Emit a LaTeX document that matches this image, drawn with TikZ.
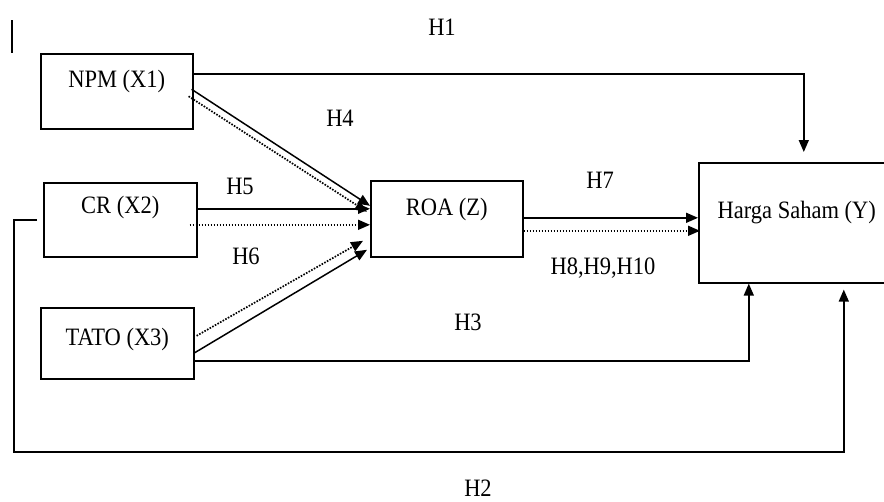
\documentclass[tikz,border=0pt]{standalone}
\usepackage{fontspec}
\setmainfont{Liberation Serif}[FakeStretch=0.9]
\usepackage{tikz}
\usetikzlibrary{calc,arrows.meta,positioning}

\begin{document}
\begin{tikzpicture}[x=1pt,y=-1pt,
    font=\fontsize{25}{29}\selectfont,
    varbox/.style={draw,line width=1.6pt,anchor=north west,inner sep=0pt,text depth=#1},
    link/.style={line width=1.5pt,-{Triangle[length=12pt,width=10pt]}},
    dlink/.style={link,line width=1.7pt,dash pattern=on 1.6pt off 1.4pt}]
  \useasboundingbox (0,0) rectangle (884,501);
  \clip (0,0) rectangle (884,501);
  \draw[line width=1.6pt] (12,20) -- (12,53);
  % variables
  \node[varbox=24pt,minimum width=152pt,minimum height=75pt] (npm) at (40,53) {NPM (X1)};
  \node[varbox=29pt,minimum width=153pt,minimum height=74pt] (cr) at (43,182) {CR (X2)};
  \node[varbox=13pt,minimum width=153pt,minimum height=71pt] (tato) at (40,307) {TATO (X3)};
  \node[varbox=23pt,minimum width=152pt,minimum height=76pt] (roa) at (370,180) {ROA (Z)};
  \node[varbox=25pt,minimum width=196pt,minimum height=120pt] (harga) at (698,162) {Harga Saham (Y)};
  % paths into ROA
  \draw[link] ($(npm.east)+(-2,-2)$) -- ($(roa.west)+(0,-13)$);
  \draw[dlink] ($(npm.east)+(-5,5)$) -- ($(roa.west)+(-3,-7)$);
  \draw[link] ($(cr.east)+(0,-11)$) -- ($(roa.west)+(0,-10)$);
  \draw[dlink] ($(cr.east)+(-8,5)$) -- ($(roa.west)+(0,6)$);
  \draw[link] ($(tato.east)+(0,9.5)$) -- ($(roa.west)+(-3,31)$);
  \draw[dlink] ($(tato.east)+(2,-7.5)$) -- ($(roa.west)+(-7,22)$);
  % paths into harga saham
  \draw[link] ($(roa.east)+(0,-1)$) -- ($(harga.west)+(0,-5)$);
  \draw[dlink] ($(roa.east)+(0,12)$) -- ($(harga.west)+(2,8)$);
  \coordinate (h1end) at ($(harga.north)+(7,-10)$);
  \draw[link] ($(npm.east)+(0,-17.5)$) -| (h1end);
  \draw[link] ($(tato.east)+(0,17.5)$) -| ($(harga.south)+(-48,0)$);
  \coordinate (h2start) at ($(cr.west)+(-6,0)$);
  \coordinate (h2end) at ($(harga.south)+(47,6)$);
  \draw[link] (h2start) -| (14,452) -| (h2end);
  % hypotheses
  \foreach \n/\t/\px/\py in {1/H1/442/27,4/H4/340/118,5/H5/240/186,6/H6/246/256,
      7/H7/600/180,8/{H8,H9,H10}/603/268,3/H3/468/322,2/H2/478/488}
    \node (hyp\n) at (\px,\py) {\t};
\end{tikzpicture}
\end{document}
